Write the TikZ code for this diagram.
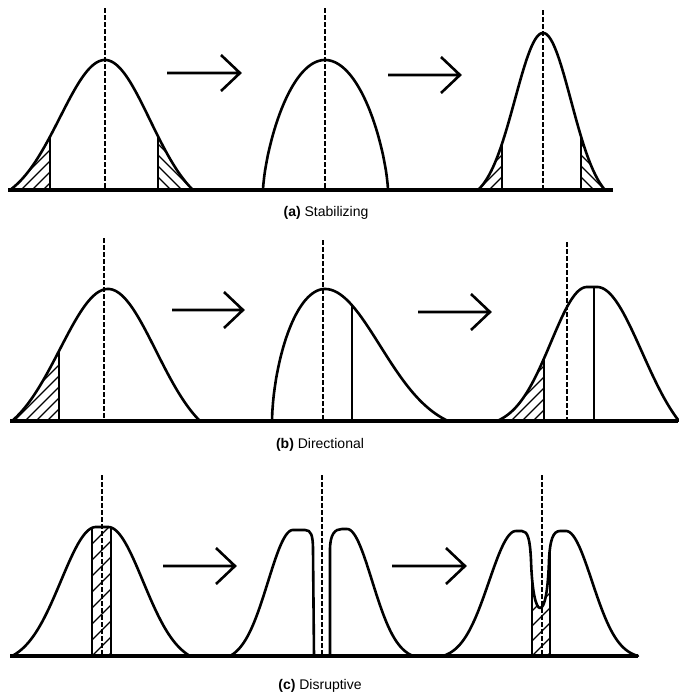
\documentclass[tikz,border=0pt]{standalone}
\usepackage{fontspec}
\setmainfont{Liberation Sans}
\newcommand{\hlines}[4]{\foreach \k in {-30,...,30}{\draw[hatch] ({#1+\k*#3},#2) -- ++({#4*260},-260);}}
\newcommand{\cAone}{plot[domain=-95:0] ({105+\x},{190-130*gf(\x,45,95)}) -- plot[domain=0:88] ({105+\x},{190-130*gf(\x,45,88)})}
\newcommand{\cAtwo}{(263,190) -- plot[domain=-61.7:0] ({325+\x},{190-130*pw(\x,62,0.7)}) -- plot[domain=0:62.7] ({325+\x},{190-130*pw(\x,63,0.7)}) -- (388,190)}
\newcommand{\cAthree}{plot[domain=-65:0] ({543+\x},{190-157*gf(\x,28,65)}) -- plot[domain=0:62] ({543+\x},{190-157*gf(\x,28,62)})}
\newcommand{\cBone}{plot[domain=-96:0] ({108+\x},{421-132*gf(\x,48,96)}) -- plot[domain=0:92] ({108+\x},{421-132*gf(\x,48,92)})}
\newcommand{\cBtwo}{(272,421) -- plot[domain=-52.7:0] ({325+\x},{421-132*pw(\x,53,0.6)}) -- plot[domain=0:123] ({325+\x},{421-132*gf(\x,55,123)})}
\newcommand{\cBthree}{plot[domain=-90:0] ({587+\x},{421-134*gf(\x,36,90)}) -- plot[domain=0:82] ({597+\x},{421-134*gf(\x,45,82)})}
\newcommand{\cCone}{plot[domain=-84:0] ({96+\x},{656-129*gf(\x,35,84)}) -- plot[domain=0:82] ({108+\x},{656-129*gf(\x,35,82)})}
\newcommand{\cCtwoL}{plot[domain=-63:0] ({293+\x},{656-126*gf(\x,25,63)}) -- (305,530) .. controls (311,530) and (313,535) .. (313,550) -- (314,656)}
\newcommand{\cCtwoR}{(330,656) -- (330,550) .. controls (330,534) and (335,529) .. (342,529) -- plot[domain=0:66] ({347+\x},{656-127*gf(\x,25,66)})}
\newcommand{\cCthree}{plot[domain=-73:0] ({516+\x},{656-125*gf(\x,27,73)}) -- (522,531) .. controls (528,531) and (530,540) .. (531,560) .. controls (532,592) and (536,608) .. (540,608) .. controls (545,608) and (548,590) .. (549,560) .. controls (550,540) and (553,531) .. (560,531) -- plot[domain=0:72] ({566+\x},{656-125*gf(\x,26,72)})}
\begin{document}
\begin{tikzpicture}[x=1pt,y=-1pt,samples=70,
  declare function={gf(\xa,\xs,\xf)=(exp(-0.5*((\xa)/(\xs))*((\xa)/(\xs)))-exp(-0.5*((\xf)/(\xs))*((\xf)/(\xs))))/(1-exp(-0.5*((\xf)/(\xs))*((\xf)/(\xs))));
                    pw(\xa,\xw,\xp)=(1-((\xa)/(\xw))*((\xa)/(\xw)))^(\xp);},
  curve/.style={line width=2.6pt, line join=round, line cap=round},
  baseln/.style={line width=4.5pt},
  meanln/.style={line width=1.9pt, dash pattern=on 4.5pt off 2.5pt},
  bound/.style={line width=1.7pt},
  hatch/.style={line width=1.3pt},
  arr/.style={line width=2.6pt, line join=miter},
  captxt/.style={font=\fontsize{14}{16}\selectfont, inner sep=0pt}]
\useasboundingbox (0,0) rectangle (678,694);

% ---------- (a) Stabilizing ----------
\begin{scope}
  \clip \cAone -- cycle;
  \begin{scope}\clip (0,190) rectangle (50,0); \hlines{10}{190}{11}{1}\end{scope}
  \begin{scope}\clip (158,190) rectangle (200,0); \hlines{160}{190}{11}{-1}\end{scope}
  \draw[bound] (50,192) -- (50,0);
  \draw[bound] (158,192) -- (158,0);
\end{scope}
\begin{scope}
  \clip \cAthree -- cycle;
  \begin{scope}\clip (470,190) rectangle (502,0); \hlines{478}{190}{11}{1}\end{scope}
  \begin{scope}\clip (581,190) rectangle (610,0); \hlines{583}{190}{11}{-1}\end{scope}
  \draw[bound] (502,192) -- (502,0);
  \draw[bound] (581,192) -- (581,0);
\end{scope}
\draw[curve] \cAone;
\draw[curve] \cAtwo;
\draw[curve] \cAthree;
\draw[baseln] (8,190) -- (613,190);
\draw[meanln] (105,8) -- (105,190);
\draw[meanln] (325,8) -- (325,190);
\draw[meanln] (543,10) -- (543,190);
\coordinate (aS1) at (167,73); \coordinate (aE1) at (240,73);
\coordinate (aS2) at (388,75); \coordinate (aE2) at (460,75);
\draw[arr] (aS1) -- (aE1) ++(-19,-18) -- (aE1) -- ++(-19,18);
\draw[arr] (aS2) -- (aE2) ++(-19,-18) -- (aE2) -- ++(-19,18);
\node[captxt] (capA) at (326,213) {\textbf{(a)} Stabilizing};

% ---------- (b) Directional ----------
\begin{scope}
  \clip \cBone -- cycle;
  \begin{scope}\clip (0,421) rectangle (59,0); \hlines{14}{421}{11}{1}\end{scope}
  \draw[bound] (59,423) -- (59,0);
\end{scope}
\begin{scope}
  \clip \cBtwo -- cycle;
  \draw[bound] (352,423) -- (352,0);
\end{scope}
\begin{scope}
  \clip \cBthree -- cycle;
  \begin{scope}\clip (490,421) rectangle (544,0); \hlines{500}{421}{11}{1}\end{scope}
  \draw[bound] (544,423) -- (544,0);
  \draw[bound] (594,423) -- (594,0);
\end{scope}
\draw[curve] \cBone;
\draw[curve] \cBtwo;
\draw[curve] \cBthree;
\draw[baseln] (10,421) -- (678,421);
\draw[meanln] (104,238) -- (104,421);
\draw[meanln] (323,240) -- (323,421);
\draw[meanln] (567,242) -- (567,421);
\coordinate (bS1) at (172,310); \coordinate (bE1) at (243,310);
\coordinate (bS2) at (418,312); \coordinate (bE2) at (490,312);
\draw[arr] (bS1) -- (bE1) ++(-19,-18) -- (bE1) -- ++(-19,18);
\draw[arr] (bS2) -- (bE2) ++(-19,-18) -- (bE2) -- ++(-19,18);
\node[captxt] (capB) at (320,445) {\textbf{(b)} Directional};

% ---------- (c) Disruptive ----------
\begin{scope}
  \clip \cCone -- cycle;
  \begin{scope}\clip (92,656) rectangle (111,0); \hlines{92}{656}{16}{1}\end{scope}
  \draw[bound] (92,658) -- (92,0);
  \draw[bound] (111,658) -- (111,0);
\end{scope}
\begin{scope}
  \clip \cCthree -- cycle;
  \begin{scope}\clip (532,656) rectangle (550,0); \hlines{532}{656}{15}{1}\end{scope}
  \draw[bound] (532,658) -- (532,0);
  \draw[bound] (550,658) -- (550,0);
\end{scope}
\draw[curve] \cCone;
\draw[curve] \cCtwoL;
\draw[curve] \cCtwoR;
\draw[curve] \cCthree;
\draw[baseln] (10,656) -- (638,656);
\draw[meanln] (102,475) -- (102,656);
\draw[meanln] (322,475) -- (322,656);
\draw[meanln] (542,475) -- (542,656);
\coordinate (cS1) at (163,566); \coordinate (cE1) at (235,566);
\coordinate (cS2) at (392,566); \coordinate (cE2) at (465,566);
\draw[arr] (cS1) -- (cE1) ++(-19,-18) -- (cE1) -- ++(-19,18);
\draw[arr] (cS2) -- (cE2) ++(-19,-18) -- (cE2) -- ++(-19,18);
\node[captxt] (capC) at (320,686) {\textbf{(c)} Disruptive};
\end{tikzpicture}
\end{document}
